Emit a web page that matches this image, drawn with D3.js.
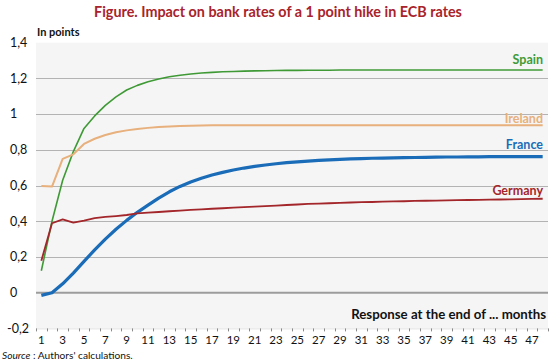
<!DOCTYPE html>
<html>
<head>
<meta charset="utf-8">
<script src="https://cdn.jsdelivr.net/npm/d3@7/dist/d3.min.js"></script>
<style>
  html, body { margin: 0; padding: 0; background: #fff; }
  svg { display: block; }
  text { font-family: Lato, "Open Sans", sans-serif; }
</style>
</head>
<body>
<svg id="chart" width="550" height="364"></svg>
<script>
// ---- data ----
const months = d3.range(1, 49);
const yTicks = [-0.2, 0, 0.2, 0.4, 0.6, 0.8, 1, 1.2, 1.4];
const yTickLabels = ["-0,2", "0", "0,2", "0,4", "0,6", "0,8", "1", "1,2", "1,4"];
const xTickLabels = months.filter(m => m % 2 === 1);

const spain = [0.123, 0.40, 0.63, 0.79, 0.92, 0.99, 1.049, 1.097, 1.135, 1.161,
  1.181, 1.197, 1.209, 1.218, 1.225, 1.230, 1.234, 1.237, 1.239, 1.241,
  1.242, 1.243, 1.244, 1.245, 1.245, 1.246, 1.246, 1.246, 1.247, 1.247,
  1.247, 1.247, 1.247, 1.247, 1.247, 1.247, 1.247, 1.247, 1.247, 1.247,
  1.247, 1.247, 1.247, 1.247, 1.247, 1.247, 1.247, 1.247];
const ireland = [0.597, 0.594, 0.749, 0.775, 0.833, 0.862, 0.883, 0.898, 0.909, 0.917,
  0.923, 0.928, 0.931, 0.933, 0.935, 0.936, 0.937, 0.937, 0.937, 0.937,
  0.937, 0.937, 0.937, 0.937, 0.937, 0.937, 0.937, 0.937, 0.937, 0.937,
  0.937, 0.937, 0.937, 0.937, 0.937, 0.937, 0.937, 0.937, 0.937, 0.937,
  0.937, 0.937, 0.937, 0.937, 0.937, 0.937, 0.937, 0.937];
const france = [-0.015, 0.0, 0.05, 0.11, 0.175, 0.24, 0.30, 0.355, 0.405, 0.45,
  0.49, 0.53, 0.565, 0.595, 0.62, 0.641, 0.659, 0.674, 0.687, 0.698,
  0.707, 0.715, 0.722, 0.728, 0.733, 0.737, 0.741, 0.744, 0.747, 0.749,
  0.751, 0.753, 0.754, 0.755, 0.756, 0.757, 0.758, 0.759, 0.760, 0.760,
  0.761, 0.761, 0.762, 0.762, 0.762, 0.762, 0.762, 0.762];
const germany = [0.179, 0.389, 0.411, 0.392, 0.403, 0.418, 0.424, 0.429, 0.435, 0.444,
  0.448, 0.452, 0.456, 0.460, 0.464, 0.467, 0.470, 0.473, 0.476, 0.479,
  0.482, 0.485, 0.488, 0.491, 0.494, 0.497, 0.499, 0.501, 0.503, 0.505,
  0.507, 0.508, 0.510, 0.511, 0.512, 0.514, 0.515, 0.516, 0.517, 0.518,
  0.519, 0.520, 0.521, 0.522, 0.523, 0.524, 0.525, 0.526];

const seriesNames = ["Spain", "Ireland", "France", "Germany"];
const seriesValues = [spain, ireland, france, germany];

// ---- styling ----
const colors = { Spain: "#3f9a36", Ireland: "#e7b07c", France: "#1a6cb8", Germany: "#a3262a" };
const widths = { Spain: 1.6, Ireland: 2, France: 3.2, Germany: 1.8 };

const svg = d3.select("#chart");
const pLeft = 36, pRight = 548, pTop = 42.7, pBottom = 328.4;

const x = d3.scaleBand().domain(months).range([pLeft, pRight]).padding(0);
const xc = m => x(m) + x.bandwidth() / 2;
const y = d3.scaleLinear().domain([-0.2, 1.4]).range([pBottom, pTop]);

// background
svg.append("rect").attr("x", pLeft).attr("y", pTop)
  .attr("width", pRight - pLeft).attr("height", pBottom - pTop).attr("fill", "#f5f5f5");

// gridlines
svg.append("g").selectAll("line")
  .data(yTicks.filter(v => v > -0.2 && v < 1.4 && v !== 0))
  .join("line")
  .attr("x1", pLeft).attr("x2", pRight)
  .attr("y1", d => Math.round(y(d)) + 0.5).attr("y2", d => Math.round(y(d)) + 0.5)
  .attr("stroke", "#b3b3b3").attr("stroke-width", 1);

// zero line
svg.append("line").attr("x1", pLeft).attr("x2", pRight)
  .attr("y1", y(0)).attr("y2", y(0))
  .attr("stroke", "#9c9c9c").attr("stroke-width", 2);

// bottom axis line + ticks at band boundaries
svg.append("line").attr("x1", pLeft).attr("x2", pRight)
  .attr("y1", pBottom + 0.5).attr("y2", pBottom + 0.5)
  .attr("stroke", "#e2e2e2").attr("stroke-width", 1);
const boundaries = months.map(m => x(m)).concat([x(48) + x.bandwidth()]);
svg.append("g").selectAll("line").data(boundaries).join("line")
  .attr("x1", d => Math.round(d) + 0.5).attr("x2", d => Math.round(d) + 0.5)
  .attr("y1", pBottom).attr("y2", pBottom + 3)
  .attr("stroke", "#8a8a8a").attr("stroke-width", 1);

// x labels
svg.append("g").selectAll("text").data(xTickLabels).join("text")
  .attr("x", d => xc(d)).attr("y", 344)
  .attr("text-anchor", "middle").attr("font-size", 11.5).attr("fill", "#111")
  .text(d => d);

// y labels
svg.append("g").selectAll("text").data(yTicks).join("text")
  .attr("x", d => d < 0 ? 7 : 10).attr("y", d => y(d) + 4.3)
  .attr("font-size", 12.5).attr("fill", "#111")
  .text((d, i) => yTickLabels[i]);

// lines
const line = d3.line().x((d, i) => xc(months[i])).y(d => y(d)).curve(d3.curveLinear);
seriesNames.forEach((name, k) => {
  svg.append("path").datum(seriesValues[k])
    .attr("d", line).attr("fill", "none")
    .attr("stroke", colors[name]).attr("stroke-width", widths[name])
    .attr("stroke-linejoin", "round");
});

// series labels
const labelY = { Spain: 64, Ireland: 123, France: 148.5, Germany: 194.5 };
seriesNames.forEach(name => {
  svg.append("text").attr("x", 543).attr("y", labelY[name])
    .attr("text-anchor", "end").attr("font-size", 12.5).attr("font-weight", "bold")
    .attr("fill", colors[name]).text(name);
});

function fitWidth(t, base, w) {
  const l = t.node().getComputedTextLength();
  if (l > 0) t.attr("font-size", base * w / l);
}

// title
const title = svg.append("text").attr("x", 278).attr("y", 17)
  .attr("text-anchor", "middle").attr("font-size", 14).attr("font-weight", "bold")
  .attr("fill", "#a8232b")
  .text("Figure. Impact on bank rates of a 1 point hike in ECB rates");
fitWidth(title, 14, 368);

// "In points"
svg.append("text").attr("x", 37).attr("y", 36)
  .attr("font-size", 11).attr("font-weight", "bold").attr("fill", "#111").text("In points");

// axis title
const xt = svg.append("text").attr("x", 546).attr("y", 319)
  .attr("text-anchor", "end").attr("font-size", 12).attr("font-weight", "bold")
  .attr("fill", "#111").text("Response at the end of ... months");
fitWidth(xt, 12, 195);

// source
const src = svg.append("text").attr("x", 2).attr("y", 359).attr("font-size", 10.5).attr("fill", "#111");
src.append("tspan").attr("font-style", "italic").text("Source");
src.append("tspan").text(" : Authors' calculations.");
fitWidth(src, 10.5, 131);
</script>
</body>
</html>
